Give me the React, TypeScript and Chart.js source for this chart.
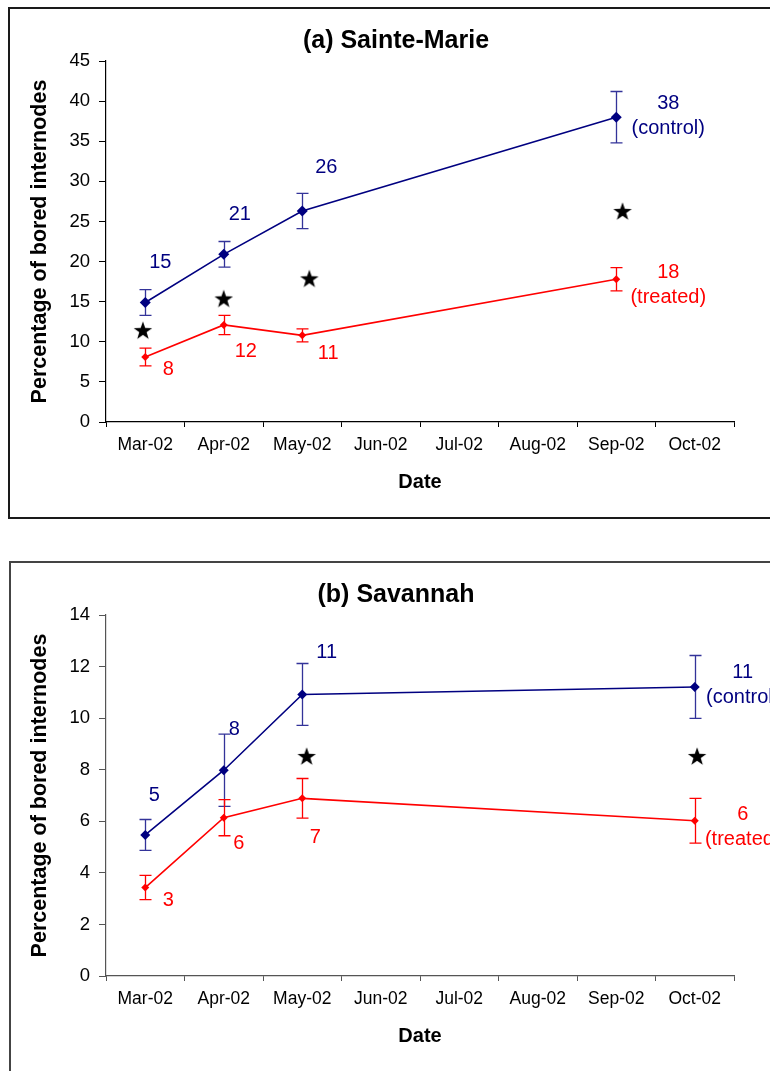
import React, { useEffect, useRef } from 'react';
import { Chart, registerables } from 'chart.js';

Chart.register(...registerables);

const FONT = '"Liberation Sans", Arial, Helvetica, sans-serif';

// ---- categories (x axis) ----
const months = ['Mar-02', 'Apr-02', 'May-02', 'Jun-02', 'Jul-02', 'Aug-02', 'Sep-02', 'Oct-02'];

// ---- panel (a) Sainte-Marie ----
const aDates = [0, 1, 2, 6]; // month index of each survey
const aControl = [14.9, 20.9, 26.3, 38.0];
const aControlErr = [1.6, 1.6, 2.2, 3.2];
const aTreated = [8.1, 12.1, 10.8, 17.8];
const aTreatedErr = [1.1, 1.2, 0.8, 1.45];
const aControlLabels = ['15', '21', '26', '38\n(control)'];
const aTreatedLabels = ['8', '12', '11', '18\n(treated)'];
const aStarDates = [-0.03, 1, 2.09, 6.08];
const aStars = [11.45, 15.4, 17.9, 26.3];

// ---- panel (b) Savannah ----
const bDates = [0, 1, 2, 7];
const bControl = [5.47, 7.98, 10.92, 11.21];
const bControlErr = [0.6, 1.4, 1.2, 1.22];
const bTreated = [3.43, 6.14, 6.89, 6.02];
const bTreatedErr = [0.47, 0.7, 0.77, 0.87];
const bControlLabels = ['5', '8', '11', '11\n(control)'];
const bTreatedLabels = ['3', '6', '7', '6\n(treated)'];
const bStarDates = [2.056, 7.03];
const bStars = [8.53, 8.53];

// ---- label placement (pixel offsets from the marker; baseline of first line) ----
const aControlOffsets = [[15, -34], [16, -34], [24, -38], [52, -8.5]];
const aTreatedOffsets = [[23, 18], [22, 32], [26, 24], [52, -1]];
const bControlOffsets = [[9, -34], [10.5, -35], [24.5, -36], [48, -9]];
const bTreatedOffsets = [[23, 18.7], [15, 31.3], [13, 45], [48, -0.7]];

const NAVY = '#000080';
const RED = '#ff0000';
const NAVY_ERR = '#333399';

function makeStar(): HTMLCanvasElement {
  const c = document.createElement('canvas');
  const s = 22;
  c.width = s;
  c.height = s;
  const g = c.getContext('2d')!;
  const R = 9.7;
  const r = R * 0.4;
  const cx = s / 2;
  const cy = s / 2 + 0.9;
  g.beginPath();
  for (let i = 0; i < 10; i++) {
    const ang = -Math.PI / 2 + (i * Math.PI) / 5;
    const rad = i % 2 === 0 ? R : r;
    g.lineTo(cx + rad * Math.cos(ang), cy + rad * Math.sin(ang));
  }
  g.closePath();
  g.fillStyle = '#000';
  g.fill();
  return c;
}

const errorBarPlugin = {
  id: 'errorBars',
  beforeDatasetsDraw(chart: any) {
    const ctx = chart.ctx;
    const yScale = chart.scales.y;
    chart.data.datasets.forEach((ds: any, i: number) => {
      if (!ds.errorValues) return;
      const meta = chart.getDatasetMeta(i);
      ctx.save();
      ctx.strokeStyle = ds.errorColor;
      ctx.lineWidth = 1.3;
      meta.data.forEach((el: any, j: number) => {
        const v = ds.data[j].y;
        const e = ds.errorValues[j];
        const x = Math.round(el.x) + 0.5;
        const yt = yScale.getPixelForValue(v + e);
        const yb = yScale.getPixelForValue(v - e);
        const cap = 6;
        ctx.beginPath();
        ctx.moveTo(x, yt);
        ctx.lineTo(x, yb);
        ctx.moveTo(x - cap, yt);
        ctx.lineTo(x + cap, yt);
        ctx.moveTo(x - cap, yb);
        ctx.lineTo(x + cap, yb);
        ctx.stroke();
      });
      ctx.restore();
    });
  },
};

const pointLabelPlugin = {
  id: 'pointLabels',
  afterDatasetsDraw(chart: any) {
    const ctx = chart.ctx;
    chart.data.datasets.forEach((ds: any, i: number) => {
      if (!ds.pointLabels) return;
      const meta = chart.getDatasetMeta(i);
      ctx.save();
      ctx.fillStyle = ds.borderColor;
      ctx.font = `20px ${FONT}`;
      ctx.textAlign = 'center';
      ctx.textBaseline = 'alphabetic';
      meta.data.forEach((el: any, j: number) => {
        const lines = String(ds.pointLabels[j]).split('\n');
        const [dx, dy] = ds.labelOffsets[j];
        lines.forEach((t: string, k: number) => {
          ctx.fillText(t, el.x + dx, el.y + dy + k * 25);
        });
      });
      ctx.restore();
    });
  },
};

type PanelCfg = {
  title: string;
  top: number;
  yMax: number;
  step: number;
  axisColor: string;
  dates: number[];
  control: number[];
  controlErr: number[];
  treated: number[];
  treatedErr: number[];
  controlLabels: string[];
  treatedLabels: string[];
  controlOffsets: number[][];
  treatedOffsets: number[][];
  starDates: number[];
  stars: number[];
  ctrlRadius: number;
  trtRadius: number;
};

function Panel({ cfg }: { cfg: PanelCfg }) {
  const ref = useRef<HTMLCanvasElement>(null);
  useEffect(() => {
    if (!ref.current) return;
    const star = makeStar();
    const pts = (ys: number[], xs: number[]) => ys.map((y, i) => ({ x: xs[i], y }));
    const chart = new Chart(ref.current, {
      type: 'line',
      data: {
        datasets: [
          {
            data: pts(cfg.control, cfg.dates),
            xAxisID: 'xv',
            yAxisID: 'y',
            borderColor: NAVY,
            backgroundColor: NAVY,
            borderWidth: 1.6,
            pointStyle: 'rectRot',
            pointRadius: cfg.ctrlRadius,
            pointBackgroundColor: NAVY,
            pointBorderWidth: 0,
            tension: 0,
            errorValues: cfg.controlErr,
            errorColor: NAVY_ERR,
            pointLabels: cfg.controlLabels,
            labelOffsets: cfg.controlOffsets,
          } as any,
          {
            data: pts(cfg.treated, cfg.dates),
            xAxisID: 'xv',
            yAxisID: 'y',
            borderColor: RED,
            backgroundColor: RED,
            borderWidth: 1.6,
            pointStyle: 'rectRot',
            pointRadius: cfg.trtRadius,
            pointBackgroundColor: RED,
            pointBorderWidth: 0,
            tension: 0,
            errorValues: cfg.treatedErr,
            errorColor: RED,
            pointLabels: cfg.treatedLabels,
            labelOffsets: cfg.treatedOffsets,
          } as any,
          {
            data: pts(cfg.stars, cfg.starDates),
            xAxisID: 'xv',
            yAxisID: 'y',
            showLine: false,
            pointStyle: star,
            pointRadius: 10,
            borderColor: '#000',
            backgroundColor: '#000',
          } as any,
        ],
      },
      options: {
        responsive: false,
        animation: false,
        events: [],
        layout: { padding: { left: 48, right: 36, top: 0, bottom: 0 } },
        plugins: {
          legend: { display: false },
          tooltip: { enabled: false },
          title: {
            display: true,
            text: cfg.title,
            color: '#000',
            font: { family: FONT, size: 25, weight: 'bold' },
            padding: { top: 18, bottom: 5 },
          },
        },
        scales: {
          x: {
            type: 'category',
            labels: months,
            offset: true,
            position: 'bottom',
            grid: {
              offset: true,
              drawOnChartArea: false,
              tickLength: 5,
              color: cfg.axisColor,
              tickColor: cfg.axisColor,
            },
            border: { color: cfg.axisColor, width: 1.2 },
            ticks: {
              color: '#000',
              font: { family: FONT, size: 17.5 },
              padding: 7.5,
              maxRotation: 0,
              autoSkip: false,
            },
            title: {
              display: true,
              text: 'Date',
              color: '#000',
              font: { family: FONT, size: 20, weight: 'bold' },
              padding: { top: 0, bottom: 24 },
            },
            afterFit: (s: any) => {
              s.height = 96;
            },
          },
          xv: {
            type: 'linear',
            display: false,
            position: 'bottom',
            min: -0.5,
            max: 7.5,
          },
          y: {
            type: 'linear',
            min: 0,
            max: cfg.yMax,
            position: 'left',
            ticks: {
              stepSize: cfg.step,
              color: '#000',
              font: { family: FONT, size: 18.5 },
              padding: 9,
            },
            grid: {
              drawOnChartArea: false,
              tickLength: 7,
              color: cfg.axisColor,
              tickColor: cfg.axisColor,
            },
            border: { color: cfg.axisColor, width: 1.2 },
            title: {
              display: true,
              text: 'Percentage of bored internodes',
              color: '#000',
              font: { family: FONT, size: 21.5, weight: 'bold' },
              padding: { top: -30.9, bottom: 0 },
            },
            afterFit: (s: any) => {
              s.width = 48;
            },
          },
        },
      } as any,
      plugins: [errorBarPlugin, pointLabelPlugin],
    });
    return () => chart.destroy();
  }, [cfg]);
  return (
    <canvas
      ref={ref}
      width={760}
      height={510}
      style={{ position: 'absolute', left: 10, top: cfg.top, width: 760, height: 510 }}
    />
  );
}

const panelA: PanelCfg = {
  title: '(a) Sainte-Marie',
  top: 8,
  yMax: 45,
  step: 5,
  axisColor: '#000',
  dates: aDates,
  control: aControl,
  controlErr: aControlErr,
  treated: aTreated,
  treatedErr: aTreatedErr,
  controlLabels: aControlLabels,
  treatedLabels: aTreatedLabels,
  controlOffsets: aControlOffsets,
  treatedOffsets: aTreatedOffsets,
  starDates: aStarDates,
  stars: aStars,
  ctrlRadius: 5.5,
  trtRadius: 4,
};

const panelB: PanelCfg = {
  title: '(b) Savannah',
  top: 562,
  yMax: 14,
  step: 2,
  axisColor: '#555',
  dates: bDates,
  control: bControl,
  controlErr: bControlErr,
  treated: bTreated,
  treatedErr: bTreatedErr,
  controlLabels: bControlLabels,
  treatedLabels: bTreatedLabels,
  controlOffsets: bControlOffsets,
  treatedOffsets: bTreatedOffsets,
  starDates: bStarDates,
  stars: bStars,
  ctrlRadius: 5,
  trtRadius: 4,
};

export default function App() {
  return (
    <div
      style={{
        position: 'fixed',
        left: 0,
        top: 0,
        width: 770,
        height: 1071,
        overflow: 'hidden',
        background: '#fff',
      }}
    >
      <div
        style={{
          position: 'absolute',
          left: 8,
          top: 7,
          width: 800,
          height: 512,
          border: '2px solid #1a1a1a',
          boxSizing: 'border-box',
        }}
      />
      <div
        style={{
          position: 'absolute',
          left: 9,
          top: 561,
          width: 800,
          height: 600,
          border: '2px solid #444',
          boxSizing: 'border-box',
        }}
      />
      <Panel cfg={panelA} />
      <Panel cfg={panelB} />
    </div>
  );
}
